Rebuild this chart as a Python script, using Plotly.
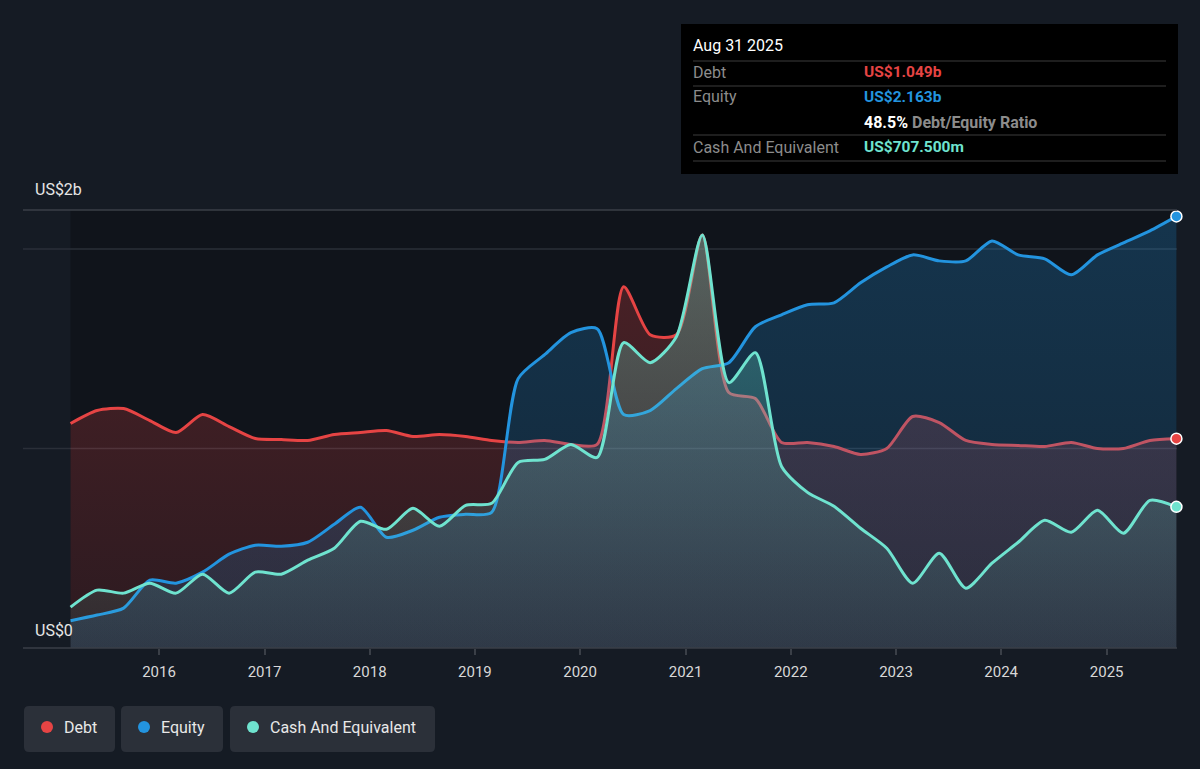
import plotly.graph_objects as go

dates = [
    "2015-02-28", "2015-05-31", "2015-08-31", "2015-11-30",
    "2016-02-29", "2016-05-31", "2016-08-31", "2016-11-30",
    "2017-02-28", "2017-05-31", "2017-08-31", "2017-11-30",
    "2018-02-28", "2018-05-31", "2018-08-31", "2018-11-30",
    "2019-02-28", "2019-05-31", "2019-08-31", "2019-11-30",
    "2020-02-29", "2020-05-31", "2020-08-31", "2020-11-30",
    "2021-02-28", "2021-05-31", "2021-08-31", "2021-11-30",
    "2022-02-28", "2022-05-31", "2022-08-31", "2022-11-30",
    "2023-02-28", "2023-05-31", "2023-08-31", "2023-11-30",
    "2024-02-29", "2024-05-31", "2024-08-31", "2024-11-30",
    "2025-02-28", "2025-05-31", "2025-08-31",
]

# values in US$ billions
debt = [
    1.125, 1.19, 1.20, 1.14,
    1.08, 1.17, 1.11, 1.05,
    1.045, 1.04, 1.07, 1.08,
    1.09, 1.06, 1.07, 1.06,
    1.04, 1.03, 1.04, 1.02,
    1.02, 1.81, 1.57, 1.57,
    2.07, 1.28, 1.25, 1.03,
    1.03, 1.01, 0.97, 1.00,
    1.16, 1.13, 1.04, 1.02,
    1.015, 1.01, 1.03, 1.00,
    1.00, 1.04, 1.049,
]
equity = [
    0.137, 0.165, 0.20, 0.34,
    0.325, 0.38, 0.47, 0.515,
    0.51, 0.53, 0.62, 0.705,
    0.555, 0.59, 0.655, 0.67,
    0.68, 1.35, 1.47, 1.58,
    1.60, 1.17, 1.19, 1.30,
    1.40, 1.43, 1.61, 1.67,
    1.72, 1.73, 1.83, 1.91,
    1.97, 1.94, 1.94, 2.04,
    1.97, 1.95, 1.87, 1.97,
    2.03, 2.09, 2.163,
]
cash = [
    0.205, 0.29, 0.275, 0.325,
    0.275, 0.37, 0.275, 0.38,
    0.37, 0.44, 0.50, 0.635,
    0.595, 0.70, 0.61, 0.715,
    0.725, 0.93, 0.945, 1.02,
    0.955, 1.53, 1.43, 1.56,
    2.07, 1.33, 1.48, 0.91,
    0.78, 0.71, 0.60, 0.50,
    0.325, 0.475, 0.30, 0.425,
    0.53, 0.64, 0.58, 0.69,
    0.575, 0.74, 0.7075,
]

series_names = ["Debt", "Equity", "Cash And Equivalent"]
line_colors = ["#e64444", "#2394df", "#6fe3cf"]
fill_rgb = ["230,68,68", "35,148,223", "110,229,208"]
fill_alpha = [(0.13, 0.28), (0.15, 0.25), (0.07, 0.34)]  # (at 0, at top)
y_tick_labels = ["US$0", "US$2b"]
year_ticks = ["2016", "2017", "2018", "2019", "2020", "2021", "2022", "2023", "2024", "2025"]

tooltip_date = "Aug 31 2025"
tooltip_rows = [("Debt", "US$1.049b"), ("Equity", "US$2.163b"), ("Cash And Equivalent", "US$707.500m")]
ratio_text = "48.5%"

BG = "#151b24"
DATA_BG = "#10141b"
FONT = "Roboto"
YMAX = 2.195

fig = go.Figure()
for name, vals, lc, rgb, (a0, a1) in zip(series_names, [debt, equity, cash], line_colors, fill_rgb, fill_alpha):
    fig.add_trace(go.Scatter(
        x=dates, y=vals, mode="lines", fill="tozeroy",
        fillgradient=dict(type="vertical", start=0, stop=2.1,
                          colorscale=[[0, f"rgba({rgb},{a0})"], [1, f"rgba({rgb},{a1})"]]),
        line=dict(width=0, shape="spline", smoothing=0.7), hoverinfo="skip", showlegend=False))
    fig.add_trace(go.Scatter(
        x=dates, y=vals, mode="lines", name=name,
        line=dict(width=3, color=lc, shape="spline", smoothing=0.7),
        hoverinfo="skip", showlegend=False))

# end markers
for vals, lc in zip([debt, equity, cash], line_colors):
    fig.add_trace(go.Scatter(
        x=[dates[-1]], y=[vals[-1]], mode="markers",
        marker=dict(size=11, color=lc, line=dict(color="white", width=1.5)),
        hoverinfo="skip", showlegend=False, cliponaxis=False))

# plot area pixel geometry
L, R, T, B = 23, 1177, 210, 648
W, H = R - L, B - T


def px(x):
    return (x - L) / W


def py(y):
    return (B - y) / H


shapes = []
# darker background behind the data span
shapes.append(dict(type="rect", xref="x", yref="paper", x0=dates[0], x1=dates[-1], y0=0, y1=1,
                   fillcolor=DATA_BG, line=dict(width=0), layer="below"))
# gridlines at 1b and 2b
for v in [1.0, 2.0]:
    shapes.append(dict(type="line", xref="paper", yref="y", x0=0, x1=1, y0=v, y1=v,
                       line=dict(color="#2a2f38", width=1.5), layer="below"))
# top and bottom lines
shapes.append(dict(type="line", xref="paper", yref="paper", x0=0, x1=1, y0=1, y1=1,
                   line=dict(color="#3a3f47", width=1.5)))
shapes.append(dict(type="line", xref="paper", yref="paper", x0=0, x1=1, y0=0, y1=0,
                   line=dict(color="#3a3f47", width=1.5)))

annotations = []
annotations.append(dict(xref="paper", yref="paper", x=px(33), y=py(190), text=y_tick_labels[1],
                        showarrow=False, xanchor="left", yanchor="middle",
                        font=dict(family=FONT, size=16, color="#e6e6e6")))
annotations.append(dict(xref="paper", yref="paper", x=px(33), y=py(630), text=y_tick_labels[0],
                        showarrow=False, xanchor="left", yanchor="middle",
                        font=dict(family=FONT, size=16, color="#e6e6e6")))


def rounded_rect(x0, y0, x1, y1, r):
    X0, X1 = px(x0), px(x1)
    Y0, Y1 = py(y0), py(y1)  # Y0 top, Y1 bottom
    rx, ry = r / W, r / H
    return (f"M {X0+rx},{Y0} L {X1-rx},{Y0} Q {X1},{Y0} {X1},{Y0-ry} "
            f"L {X1},{Y1+ry} Q {X1},{Y1} {X1-rx},{Y1} L {X0+rx},{Y1} "
            f"Q {X0},{Y1} {X0},{Y1+ry} L {X0},{Y0-ry} Q {X0},{Y0} {X0+rx},{Y0} Z")


# legend boxes
legend_boxes = [(24, 115), (121, 223), (230, 435)]
for (x0, x1), name, lc in zip(legend_boxes, series_names, line_colors):
    shapes.append(dict(type="path", xref="paper", yref="paper",
                       path=rounded_rect(x0, 706, x1, 752, 5),
                       fillcolor="#2b3039", line=dict(width=0)))
    cx = x0 + 23
    shapes.append(dict(type="circle", xref="paper", yref="paper",
                       x0=px(cx - 6), x1=px(cx + 6), y0=py(733), y1=py(721),
                       fillcolor=lc, line=dict(width=0)))
    annotations.append(dict(xref="paper", yref="paper", x=px(cx + 15), y=py(727), text=name,
                            showarrow=False, xanchor="left", yanchor="middle",
                            font=dict(family=FONT, size=16, color="#e8e8e8")))

# tooltip box
shapes.append(dict(type="rect", xref="paper", yref="paper",
                   x0=px(681), x1=px(1178), y0=py(24), y1=py(174),
                   fillcolor="#000000", line=dict(width=0)))
for yy in [61, 86, 135, 161]:
    shapes.append(dict(type="line", xref="paper", yref="paper",
                       x0=px(693), x1=px(1166), y0=py(yy), y1=py(yy),
                       line=dict(color="#3c3c3c", width=1.2)))
annotations.append(dict(xref="paper", yref="paper", x=px(691), y=py(46), text=tooltip_date,
                        showarrow=False, xanchor="left", yanchor="middle",
                        font=dict(family=FONT, size=16, color="#ffffff")))
row_y = [72, 97, 147]
for (lab, val), yy, lc in zip(tooltip_rows, row_y, line_colors):
    annotations.append(dict(xref="paper", yref="paper", x=px(691), y=py(yy), text=lab,
                            showarrow=False, xanchor="left", yanchor="middle",
                            font=dict(family=FONT, size=16, color="#8c8c8c")))
    annotations.append(dict(xref="paper", yref="paper", x=px(862), y=py(yy), text=f"<b>{val}</b>",
                            showarrow=False, xanchor="left", yanchor="middle",
                            font=dict(family=FONT, size=15.5, color=lc)))
annotations.append(dict(xref="paper", yref="paper", x=px(862), y=py(122),
                        text=f"<b><span style='color:#ffffff'>{ratio_text}</span> Debt/Equity Ratio</b>",
                        showarrow=False, xanchor="left", yanchor="middle",
                        font=dict(family=FONT, size=16, color="#8c8c8c")))

fig.update_layout(
    width=1200, height=769,
    margin=dict(l=L, r=1200 - R, t=T, b=769 - B),
    paper_bgcolor=BG, plot_bgcolor=BG,
    shapes=shapes, annotations=annotations,
    xaxis=dict(
        type="date", range=["2014-09-16", "2025-09-02"],
        tickvals=[f"{y}-01-01" for y in year_ticks], ticktext=year_ticks,
        ticks="outside", ticklen=6, tickwidth=1.5, tickcolor="#3a3f47",
        ticklabelstandoff=4,
        showgrid=False, zeroline=False, showline=False,
        tickfont=dict(family=FONT, size=15, color="#d8d8d8"),
        fixedrange=True,
    ),
    yaxis=dict(range=[0, YMAX], showgrid=False, zeroline=False, showticklabels=False,
               fixedrange=True),
    showlegend=False,
)

fig.write_html("out.html", config={"displayModeBar": False})
